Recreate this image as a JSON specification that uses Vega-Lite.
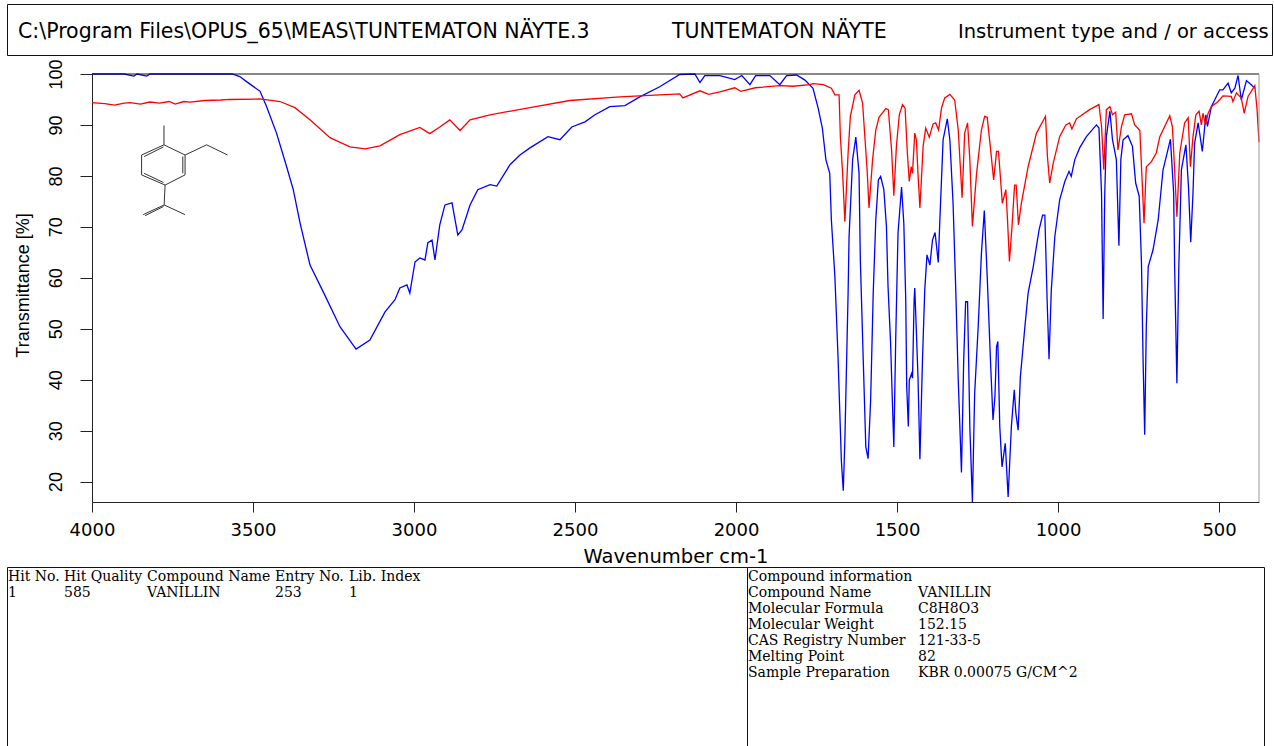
{"$schema":"https://vega.github.io/schema/vega-lite/v6.json","padding":{"left":6,"top":3,"right":0,"bottom":0},"background":"white","bounds":"flush","spacing":0,"config":{"view":{"stroke":"#111","strokeWidth":1},"text":{"fill":"#000"}},"vconcat":[
{"width":1265,"height":51,"layer":[{"data":{"values":[{"col":1,"text":"C:\\Program Files\\OPUS_65\\MEAS\\TUNTEMATON NÄYTE.3"},{"col":2,"text":"TUNTEMATON NÄYTE"}]},"mark":{"type":"text","font":"DejaVu Sans","fontSize":20.5,"align":"left","baseline":"middle","dy":2,"clip":true,"fill":"#000"},"encoding":{"x":{"field":"col","type":"quantitative","axis":null,"scale":{"domain":[1,2,3],"range":[11,665,951]}},"text":{"field":"text"}}},{"data":{"values":[{"col":3,"text":"Instrument type and / or access"}]},"mark":{"type":"text","font":"DejaVu Sans","fontSize":19.5,"align":"left","baseline":"middle","dy":2,"clip":true,"fill":"#000"},"encoding":{"x":{"field":"col","type":"quantitative","axis":null},"text":{"field":"text"}}}]},
{"width":1252,"height":512,"view":{"stroke":null},"layer":[
{"data":{"values":[{"w":4000,"t":100},{"w":3900,"t":100},{"w":3870,"t":99.6},{"w":3860,"t":100},{"w":3830,"t":99.6},{"w":3820,"t":100},{"w":3565,"t":100},{"w":3541,"t":99.5},{"w":3520,"t":98.5},{"w":3478,"t":96.6},{"w":3458,"t":93.6},{"w":3427,"t":88.4},{"w":3396,"t":81.9},{"w":3375,"t":77.3},{"w":3354,"t":70.8},{"w":3323,"t":62.5},{"w":3277,"t":56.6},{"w":3230,"t":50.4},{"w":3180,"t":46},{"w":3137,"t":47.8},{"w":3090,"t":53.3},{"w":3059,"t":55.7},{"w":3044,"t":58},{"w":3022,"t":58.6},{"w":3013,"t":57},{"w":2997,"t":63.1},{"w":2982,"t":63.9},{"w":2966,"t":63.5},{"w":2957,"t":66.9},{"w":2944,"t":67.4},{"w":2935,"t":63.5},{"w":2920,"t":70.4},{"w":2904,"t":74.3},{"w":2882,"t":74.7},{"w":2864,"t":68.4},{"w":2851,"t":69.4},{"w":2826,"t":74.3},{"w":2802,"t":77.3},{"w":2764,"t":78.3},{"w":2743,"t":78},{"w":2702,"t":82.2},{"w":2671,"t":84.1},{"w":2640,"t":85.5},{"w":2584,"t":87.7},{"w":2547,"t":87.1},{"w":2510,"t":89.6},{"w":2469,"t":90.6},{"w":2438,"t":92},{"w":2392,"t":93.6},{"w":2345,"t":93.8},{"w":2299,"t":95.5},{"w":2237,"t":97.5},{"w":2175,"t":99.9},{"w":2128,"t":100},{"w":2112,"t":98.3},{"w":2097,"t":99.7},{"w":2050,"t":99.7},{"w":2004,"t":98.9},{"w":1982,"t":99.7},{"w":1957,"t":97.9},{"w":1939,"t":99.7},{"w":1895,"t":99.7},{"w":1864,"t":97.9},{"w":1843,"t":99.7},{"w":1812,"t":99.8},{"w":1786,"t":98.8},{"w":1761,"t":97.2},{"w":1745,"t":93.3},{"w":1732,"t":89.4},{"w":1721,"t":83.2},{"w":1709,"t":80.5},{"w":1704,"t":71.4},{"w":1693,"t":60.2},{"w":1683,"t":43.9},{"w":1673,"t":24.2},{"w":1667,"t":18.2},{"w":1662,"t":28.2},{"w":1652,"t":57},{"w":1649,"t":68.1},{"w":1638,"t":83.2},{"w":1628,"t":87.6},{"w":1618,"t":80.5},{"w":1614,"t":63.5},{"w":1605,"t":43.9},{"w":1597,"t":26.8},{"w":1590,"t":24.5},{"w":1582,"t":36},{"w":1574,"t":57},{"w":1566,"t":71.4},{"w":1558,"t":79.2},{"w":1551,"t":79.9},{"w":1541,"t":77.3},{"w":1533,"t":70.1},{"w":1528,"t":58.3},{"w":1520,"t":47.1},{"w":1515,"t":36.7},{"w":1510,"t":26.8},{"w":1504,"t":48.5},{"w":1497,"t":68.8},{"w":1486,"t":77.8},{"w":1479,"t":70.7},{"w":1473,"t":55.7},{"w":1470,"t":38.6},{"w":1465,"t":30.8},{"w":1462,"t":39.9},{"w":1455,"t":41.2},{"w":1452,"t":40.3},{"w":1447,"t":55.7},{"w":1445,"t":58},{"w":1442,"t":53},{"w":1435,"t":40.6},{"w":1429,"t":24.4},{"w":1421,"t":43.9},{"w":1414,"t":57.6},{"w":1407,"t":64.5},{"w":1398,"t":62.5},{"w":1390,"t":67.4},{"w":1382,"t":68.9},{"w":1372,"t":63},{"w":1367,"t":71.4},{"w":1357,"t":87.1},{"w":1344,"t":91.2},{"w":1336,"t":87.1},{"w":1326,"t":74.6},{"w":1318,"t":58.3},{"w":1310,"t":40},{"w":1300,"t":21.8},{"w":1293,"t":43.9},{"w":1287,"t":55.3},{"w":1281,"t":55.3},{"w":1274,"t":30.8},{"w":1266,"t":16},{"w":1259,"t":37.3},{"w":1248,"t":50.4},{"w":1238,"t":64.8},{"w":1229,"t":73.2},{"w":1220,"t":60.2},{"w":1210,"t":43.9},{"w":1202,"t":32.1},{"w":1196,"t":36.7},{"w":1191,"t":46.5},{"w":1187,"t":47.5},{"w":1181,"t":30.8},{"w":1174,"t":22.9},{"w":1164,"t":27.5},{"w":1155,"t":17},{"w":1145,"t":30.8},{"w":1136,"t":38},{"w":1131,"t":33.4},{"w":1124,"t":30.1},{"w":1117,"t":40.6},{"w":1103,"t":50.4},{"w":1093,"t":57},{"w":1077,"t":62.2},{"w":1059,"t":69.4},{"w":1048,"t":72.3},{"w":1041,"t":72.3},{"w":1034,"t":55.7},{"w":1028,"t":44},{"w":1021,"t":57.6},{"w":1010,"t":68.1},{"w":995,"t":75.3},{"w":979,"t":78.9},{"w":966,"t":80.9},{"w":959,"t":79.9},{"w":948,"t":83.2},{"w":933,"t":85.5},{"w":912,"t":87.7},{"w":881,"t":90},{"w":873,"t":89.4},{"w":865,"t":76.6},{"w":860,"t":51.9},{"w":855,"t":76.6},{"w":850,"t":87.7},{"w":839,"t":92.7},{"w":831,"t":87.1},{"w":819,"t":83.2},{"w":811,"t":66.3},{"w":805,"t":83.2},{"w":798,"t":87.1},{"w":783,"t":87.9},{"w":769,"t":85.8},{"w":759,"t":78.6},{"w":748,"t":76},{"w":741,"t":62.9},{"w":736,"t":43.9},{"w":731,"t":29.2},{"w":726,"t":50.4},{"w":720,"t":62.2},{"w":705,"t":65.5},{"w":689,"t":71.4},{"w":674,"t":81.2},{"w":664,"t":83.8},{"w":651,"t":87.2},{"w":641,"t":76.6},{"w":638,"t":62.2},{"w":631,"t":39.3},{"w":625,"t":62.2},{"w":617,"t":81.2},{"w":603,"t":86.1},{"w":595,"t":77.9},{"w":588,"t":67},{"w":581,"t":76.6},{"w":576,"t":86.4},{"w":565,"t":90.4},{"w":552,"t":84.8},{"w":541,"t":92},{"w":536,"t":89.7},{"w":524,"t":93.6},{"w":498,"t":96.9},{"w":488,"t":96.9},{"w":472,"t":98.2},{"w":462,"t":96.3},{"w":451,"t":97.2},{"w":441,"t":99.7},{"w":431,"t":94.9},{"w":415,"t":98.7},{"w":400,"t":97.9},{"w":389,"t":97.2}]},"mark":{"type":"line","stroke":"#0000ff","strokeWidth":1.3},"encoding":{"x":{"field":"w","type":"quantitative","scale":{"domain":[4000,376],"range":[85,1252],"nice":false,"zero":false},"axis":{"values":[4000,3500,3000,2500,2000,1500,1000,500],"format":"d","offset":-65,"title":"Wavenumber cm-1","titleFont":"DejaVu Sans","titleFontSize":19.5,"titleFontWeight":"normal","titleColor":"#000","titleY":45,"labelFont":"DejaVu Sans","labelFontSize":18,"labelColor":"#000","labelPadding":9,"labelFlush":false,"labelOverlap":false,"tickSize":10,"tickColor":"#222","domainColor":"#222","tickWidth":1,"grid":false}},"y":{"field":"t","type":"quantitative","scale":{"domain":[16,100],"range":[447,19],"nice":false,"zero":false},"axis":{"values":[100,90,80,70,60,50,40,30,20],"offset":-85,"title":"Transmittance [%]","titleFont":"Liberation Sans","titleFontSize":18,"titleFontWeight":"normal","titleColor":"#000","titleX":-60,"titleY":230,"labelFont":"Liberation Sans","labelFontSize":18,"labelColor":"#000","labelAngle":-90,"labelAlign":"center","labelBaseline":"bottom","labelPadding":15,"labelFlush":false,"labelOverlap":false,"tickSize":12,"tickColor":"#222","domainColor":"#222","grid":false}}}},
{"data":{"values":[{"w":4000,"t":94.4},{"w":3960,"t":94.2},{"w":3930,"t":93.9},{"w":3900,"t":94.3},{"w":3882,"t":94.4},{"w":3850,"t":94.1},{"w":3820,"t":94.5},{"w":3790,"t":94.3},{"w":3760,"t":94.6},{"w":3742,"t":94.1},{"w":3715,"t":94.6},{"w":3696,"t":94.5},{"w":3650,"t":94.8},{"w":3600,"t":94.9},{"w":3572,"t":95},{"w":3478,"t":95.1},{"w":3416,"t":94.6},{"w":3370,"t":93.4},{"w":3323,"t":91},{"w":3261,"t":87.5},{"w":3199,"t":85.7},{"w":3152,"t":85.3},{"w":3106,"t":85.9},{"w":3044,"t":88.1},{"w":2982,"t":89.5},{"w":2951,"t":88.3},{"w":2920,"t":89.6},{"w":2889,"t":91},{"w":2857,"t":88.9},{"w":2826,"t":91},{"w":2764,"t":92},{"w":2640,"t":93.4},{"w":2516,"t":94.8},{"w":2361,"t":95.5},{"w":2237,"t":95.9},{"w":2175,"t":96.1},{"w":2165,"t":95.3},{"w":2112,"t":96.7},{"w":2085,"t":96},{"w":2050,"t":96.5},{"w":2004,"t":97.3},{"w":1985,"t":96.6},{"w":1940,"t":97.3},{"w":1864,"t":97.7},{"w":1823,"t":97.6},{"w":1771,"t":97.9},{"w":1761,"t":98.1},{"w":1729,"t":97.9},{"w":1704,"t":97.2},{"w":1693,"t":95.9},{"w":1680,"t":95.9},{"w":1676,"t":87.7},{"w":1669,"t":80.5},{"w":1662,"t":71},{"w":1652,"t":84.5},{"w":1645,"t":91.7},{"w":1631,"t":95.9},{"w":1618,"t":96.8},{"w":1607,"t":94.3},{"w":1600,"t":87.7},{"w":1593,"t":81.2},{"w":1587,"t":73.7},{"w":1576,"t":83.2},{"w":1566,"t":89},{"w":1556,"t":91.5},{"w":1535,"t":93.2},{"w":1527,"t":93},{"w":1517,"t":85.1},{"w":1510,"t":76.1},{"w":1502,"t":85.8},{"w":1493,"t":92},{"w":1483,"t":94},{"w":1475,"t":93.3},{"w":1468,"t":84.5},{"w":1462,"t":78.9},{"w":1456,"t":81.8},{"w":1452,"t":80.5},{"w":1445,"t":88.4},{"w":1440,"t":87.1},{"w":1435,"t":80.5},{"w":1429,"t":73.7},{"w":1419,"t":85.8},{"w":1411,"t":89.4},{"w":1400,"t":87.6},{"w":1388,"t":90.2},{"w":1380,"t":90.4},{"w":1371,"t":89},{"w":1362,"t":93.3},{"w":1352,"t":95.3},{"w":1336,"t":96},{"w":1321,"t":94.9},{"w":1310,"t":89},{"w":1298,"t":75.7},{"w":1290,"t":88.4},{"w":1281,"t":90.4},{"w":1274,"t":83.2},{"w":1266,"t":70.1},{"w":1253,"t":80.5},{"w":1238,"t":89},{"w":1228,"t":91.7},{"w":1220,"t":91.5},{"w":1210,"t":85.5},{"w":1200,"t":79.2},{"w":1191,"t":84.8},{"w":1185,"t":84.8},{"w":1173,"t":74.6},{"w":1162,"t":77.3},{"w":1157,"t":71.4},{"w":1151,"t":63.2},{"w":1143,"t":70.1},{"w":1135,"t":78.2},{"w":1130,"t":78.2},{"w":1123,"t":70.4},{"w":1114,"t":74.6},{"w":1093,"t":81.8},{"w":1067,"t":88.4},{"w":1039,"t":91.7},{"w":1033,"t":83.8},{"w":1026,"t":78.6},{"w":1015,"t":82.5},{"w":995,"t":87.7},{"w":976,"t":90},{"w":964,"t":90.4},{"w":957,"t":89.2},{"w":943,"t":91.2},{"w":902,"t":93},{"w":873,"t":94},{"w":865,"t":89.7},{"w":858,"t":81.2},{"w":850,"t":93},{"w":839,"t":93.6},{"w":831,"t":92},{"w":821,"t":92.5},{"w":814,"t":85.1},{"w":803,"t":89.7},{"w":793,"t":92},{"w":772,"t":92.2},{"w":762,"t":90},{"w":746,"t":88.9},{"w":733,"t":70.7},{"w":726,"t":81.8},{"w":710,"t":82.8},{"w":695,"t":84.5},{"w":684,"t":87.7},{"w":653,"t":91.8},{"w":645,"t":89.7},{"w":638,"t":81.2},{"w":631,"t":72},{"w":622,"t":84.5},{"w":607,"t":90.4},{"w":596,"t":91.4},{"w":589,"t":81.8},{"w":581,"t":87.7},{"w":572,"t":92},{"w":562,"t":92.7},{"w":555,"t":90},{"w":550,"t":92.3},{"w":542,"t":90},{"w":534,"t":92.3},{"w":524,"t":93.6},{"w":503,"t":94.6},{"w":488,"t":95.7},{"w":462,"t":95.6},{"w":457,"t":94.6},{"w":446,"t":96.3},{"w":431,"t":95.3},{"w":422,"t":92.3},{"w":410,"t":95.6},{"w":389,"t":97.7},{"w":382,"t":93},{"w":376,"t":86.6}]},"mark":{"type":"line","stroke":"#ff0000","strokeWidth":1.3},"encoding":{"x":{"field":"w","type":"quantitative"},"y":{"field":"t","type":"quantitative"}}},
{"data":{"values":[{"bond":"a","w":3776.5,"t":89.9},{"bond":"a","w":3776.5,"t":86.1},{"bond":"b","w":3776.5,"t":86.1},{"bond":"b","w":3846,"t":84.1},{"bond":"c","w":3776.5,"t":86.1},{"bond":"c","w":3711,"t":84.1},{"bond":"d","w":3846,"t":84.1},{"bond":"d","w":3846,"t":80.2},{"bond":"e","w":3846,"t":80.2},{"bond":"e","w":3773,"t":78.2},{"bond":"f","w":3773,"t":78.2},{"bond":"f","w":3711,"t":80.2},{"bond":"g","w":3711,"t":80.2},{"bond":"g","w":3711,"t":84.1},{"bond":"h","w":3711,"t":84.1},{"bond":"h","w":3644,"t":86.1},{"bond":"i","w":3644,"t":86.1},{"bond":"i","w":3579,"t":84.1},{"bond":"j","w":3773,"t":78.2},{"bond":"j","w":3776,"t":74.3},{"bond":"k","w":3776,"t":74.3},{"bond":"k","w":3841,"t":72.4},{"bond":"l","w":3776,"t":74.3},{"bond":"l","w":3711,"t":72.4},{"bond":"m","w":3778,"t":85.7},{"bond":"m","w":3838,"t":83.8},{"bond":"n","w":3718,"t":83.8},{"bond":"n","w":3718,"t":80.5},{"bond":"o","w":3838,"t":80.5},{"bond":"o","w":3778,"t":78.7},{"bond":"p","w":3778,"t":74},{"bond":"p","w":3835,"t":72.2}]},"mark":{"type":"line","stroke":"#333","strokeWidth":1},"encoding":{"x":{"field":"w","type":"quantitative"},"y":{"field":"t","type":"quantitative"},"detail":{"field":"bond"}}},
{"data":{"values":[{"w1":4000,"w2":376,"top":100,"low":16}]},"mark":{"type":"rule","stroke":"#111","strokeWidth":1},"encoding":{"x":{"field":"w1","type":"quantitative"},"x2":{"field":"w2"},"y":{"field":"top","type":"quantitative"}}},
{"data":{"values":[{"w1":4000,"w2":376,"top":100,"low":16}]},"mark":{"type":"rule","stroke":"#999","strokeWidth":1},"encoding":{"x":{"field":"w2","type":"quantitative"},"y":{"field":"top","type":"quantitative"},"y2":{"field":"low"}}}
]},
{"hconcat":[
{"width":740,"height":180,"data":{"values":[{"col":1,"row":1,"text":"Hit No."},{"col":2,"row":1,"text":"Hit Quality"},{"col":3,"row":1,"text":"Compound Name"},{"col":4,"row":1,"text":"Entry No."},{"col":5,"row":1,"text":"Lib. Index"},{"col":1,"row":2,"text":"1"},{"col":2,"row":2,"text":"585"},{"col":3,"row":2,"text":"VANILLIN"},{"col":4,"row":2,"text":"253"},{"col":5,"row":2,"text":"1"}]},"mark":{"type":"text","font":"DejaVu Serif","fontSize":14,"align":"left","baseline":"middle","fill":"#000"},"encoding":{"x":{"field":"col","type":"quantitative","axis":null,"scale":{"domain":[1,2,3,4,5],"range":[1,57,140,268,342]}},"y":{"field":"row","type":"quantitative","axis":null,"scale":{"domain":[1,7],"range":[10,106],"zero":false,"nice":false}},"text":{"field":"text"}}},
{"width":517,"height":180,"data":{"values":[{"col":1,"row":1,"text":"Compound information"},{"col":1,"row":2,"text":"Compound Name"},{"col":2,"row":2,"text":"VANILLIN"},{"col":1,"row":3,"text":"Molecular Formula"},{"col":2,"row":3,"text":"C8H8O3"},{"col":1,"row":4,"text":"Molecular Weight"},{"col":2,"row":4,"text":"152.15"},{"col":1,"row":5,"text":"CAS Registry Number"},{"col":2,"row":5,"text":"121-33-5"},{"col":1,"row":6,"text":"Melting Point"},{"col":2,"row":6,"text":"82"},{"col":1,"row":7,"text":"Sample Preparation"},{"col":2,"row":7,"text":"KBR 0.00075 G/CM^2"}]},"mark":{"type":"text","font":"DejaVu Serif","fontSize":14,"align":"left","baseline":"middle","fill":"#000"},"encoding":{"x":{"field":"col","type":"quantitative","axis":null,"scale":{"domain":[1,2],"range":[1,171],"zero":false,"nice":false}},"y":{"field":"row","type":"quantitative","axis":null,"scale":{"domain":[1,7],"range":[10,106],"zero":false,"nice":false}},"text":{"field":"text"}}}
],"bounds":"flush","spacing":0}
]}
